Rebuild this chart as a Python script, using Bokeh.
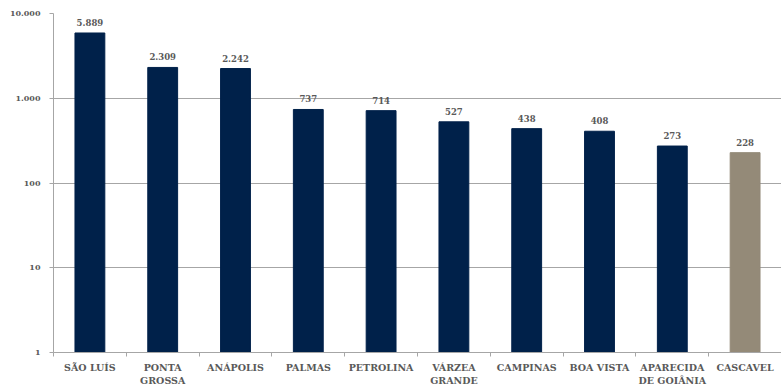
import numpy as np
from bokeh.plotting import figure
from bokeh.models import ColumnDataSource, FixedTicker, Range1d
from bokeh.core.properties import value
from bokeh.embed import file_html
from bokeh.resources import INLINE

categories = ["SÃO LUÍS", "PONTA\nGROSSA", "ANÁPOLIS", "PALMAS", "PETROLINA",
              "VÁRZEA\nGRANDE", "CAMPINAS", "BOA VISTA", "APARECIDA\nDE GOIÂNIA", "CASCAVEL"]
values = [5889, 2309, 2242, 737, 714, 527, 438, 408, 273, 228]
bar_colors = ["#00214A"] * 9 + ["#948A78"]
y_ticks = [1, 10, 100, 1000, 10000]
y_tick_labels = ["1", "10", "100", "1.000", "10.000"]

FONT = "DejaVu Serif"
GREY_TXT = "#595959"
GRID = "#A6A6A6"

n = len(categories)
xs = np.arange(n) + 0.5
labels = [f"{v:,}".replace(",", ".") for v in values]

src = ColumnDataSource(dict(x=xs, top=values, color=bar_colors, label=labels))

p = figure(width=781, height=390, y_axis_type="log", output_backend="svg",
           toolbar_location=None, x_range=Range1d(0, n), y_range=Range1d(1, 10000),
           min_border_left=53, min_border_right=0, min_border_top=13, min_border_bottom=38)
p.outline_line_color = None
p.background_fill_color = "white"

p.vbar(x="x", top="top", bottom=1, width=0.41, color="color", source=src)
p.text(x="x", y="top", text="label", source=src, y_offset=-7,
       text_align="center", text_baseline="bottom",
       text_font=value(FONT), text_font_style="bold", text_font_size="8.5px",
       text_color=GREY_TXT)

# x axis
p.xaxis.ticker = FixedTicker(ticks=list(xs), minor_ticks=list(range(n + 1)))
p.xaxis.major_label_overrides = {float(x): c for x, c in zip(xs, categories)}
p.xaxis.major_tick_out = 0
p.xaxis.major_tick_in = 0
p.xaxis.minor_tick_out = 4
p.xaxis.minor_tick_in = 0
p.xaxis.minor_tick_line_color = GRID
p.xaxis.axis_line_color = GRID
p.xaxis.major_label_text_font = FONT
p.xaxis.major_label_text_font_style = "bold"
p.xaxis.major_label_text_font_size = "9.5px"
p.xaxis.major_label_text_color = GREY_TXT
p.xaxis.major_label_standoff = 5

# y axis
p.yaxis.ticker = FixedTicker(ticks=y_ticks)
p.yaxis.major_label_overrides = {t: l for t, l in zip(y_ticks, y_tick_labels)}
p.yaxis.minor_tick_line_color = None
p.yaxis.major_tick_out = 4
p.yaxis.major_tick_in = 0
p.yaxis.major_tick_line_color = GRID
p.yaxis.axis_line_color = GRID
p.yaxis.major_label_text_font = FONT
p.yaxis.major_label_text_font_style = "bold"
p.yaxis.major_label_text_font_size = "8px"
p.yaxis.major_label_text_color = GREY_TXT
p.yaxis.major_label_standoff = 9

p.xgrid.grid_line_color = None
p.ygrid.grid_line_color = GRID
p.ygrid.grid_line_width = 1

open("out.html", "w").write(file_html(p, INLINE))
